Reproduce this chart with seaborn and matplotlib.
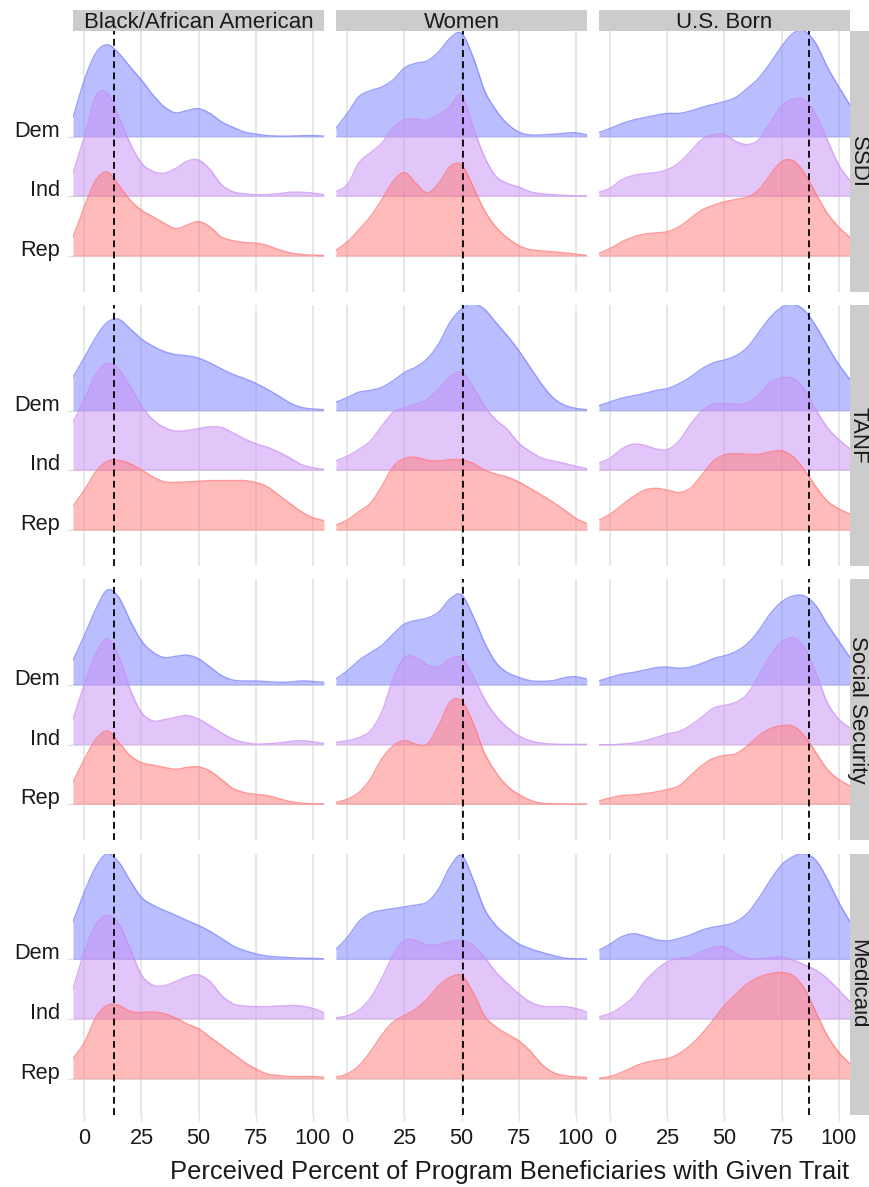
import numpy as np
import matplotlib
matplotlib.use("Agg")
import matplotlib.pyplot as plt
import seaborn as sns

# ---------------- data ----------------
programs = ["SSDI", "TANF", "Social Security", "Medicaid"]
traits = ["Black/African American", "Women", "U.S. Born"]
parties = ["Dem", "Ind", "Rep"]
x_grid = [-5, 0, 5, 10, 15, 20, 25, 30, 35, 40, 45, 50, 55, 60, 65, 70, 75, 80, 85, 90, 95, 100, 105]
x_ticks = [0, 25, 50, 75, 100]
actual_values = [12.9, 50.8, 87.0]   # dashed reference lines per trait

# ridge heights (in units of ridge spacing) at x_grid
ssdi_black_dem = [0.32,0.95,1.40,1.54,1.40,1.17,0.95,0.70,0.50,0.40,0.44,0.47,0.39,0.25,0.16,0.08,0.045,0.02,0.01,0.01,0.017,0.02,0.01]
ssdi_black_ind = [0.39,1.00,1.68,1.73,1.34,0.89,0.56,0.42,0.39,0.47,0.59,0.61,0.45,0.20,0.08,0.045,0.03,0.03,0.045,0.07,0.07,0.056,0.03]
ssdi_black_rep = [0.32,0.83,1.27,1.41,1.19,0.94,0.77,0.66,0.55,0.46,0.52,0.58,0.49,0.32,0.26,0.23,0.22,0.18,0.11,0.056,0.028,0.017,0.01]

ssdi_women_dem = [0.14,0.39,0.67,0.77,0.83,0.95,1.15,1.23,1.27,1.42,1.65,1.73,1.34,0.78,0.45,0.22,0.08,0.03,0.03,0.04,0.056,0.067,0.03]
ssdi_women_ind = [0.08,0.20,0.56,0.73,0.89,1.15,1.28,1.30,1.28,1.37,1.51,1.70,1.17,0.67,0.34,0.22,0.16,0.08,0.045,0.03,0.017,0.01,0.005]
ssdi_women_rep = [0.10,0.24,0.44,0.66,0.94,1.25,1.40,1.22,1.06,1.22,1.50,1.53,1.17,0.77,0.49,0.31,0.18,0.11,0.09,0.073,0.056,0.034,0.01]

ssdi_usborn_dem = [0.07,0.14,0.22,0.28,0.32,0.36,0.39,0.39,0.43,0.49,0.54,0.59,0.66,0.81,0.98,1.23,1.51,1.73,1.77,1.56,1.17,0.84,0.53]
ssdi_usborn_ind = [0.07,0.14,0.28,0.35,0.38,0.40,0.45,0.56,0.75,0.95,1.03,1.04,0.92,0.87,0.95,1.23,1.51,1.63,1.62,1.37,0.95,0.53,0.26]
ssdi_usborn_rep = [0.045,0.13,0.24,0.32,0.37,0.39,0.41,0.49,0.63,0.77,0.85,0.91,0.95,0.99,1.11,1.36,1.58,1.60,1.39,1.05,0.72,0.49,0.31]

tanf_black_dem = [0.56,0.89,1.23,1.48,1.53,1.37,1.20,1.08,0.99,0.94,0.92,0.88,0.80,0.70,0.61,0.54,0.46,0.36,0.25,0.13,0.056,0.028,0.017]
tanf_black_ind = [0.80,1.19,1.61,1.79,1.69,1.41,1.08,0.85,0.72,0.66,0.67,0.70,0.73,0.72,0.63,0.53,0.45,0.39,0.31,0.21,0.10,0.045,0.017]
tanf_black_rep = [0.40,0.67,0.98,1.15,1.17,1.11,1.01,0.89,0.81,0.80,0.81,0.82,0.83,0.83,0.83,0.83,0.80,0.73,0.59,0.45,0.31,0.21,0.16]

tanf_women_dem = [0.14,0.22,0.31,0.34,0.39,0.50,0.64,0.73,0.87,1.12,1.48,1.70,1.79,1.70,1.48,1.26,1.01,0.73,0.45,0.22,0.095,0.04,0.017]
tanf_women_ind = [0.16,0.24,0.35,0.49,0.74,0.97,1.05,1.11,1.19,1.36,1.57,1.64,1.41,1.08,0.85,0.69,0.46,0.32,0.21,0.16,0.12,0.07,0.03]
tanf_women_rep = [0.084,0.17,0.31,0.45,0.73,1.06,1.20,1.22,1.17,1.16,1.18,1.18,1.12,1.01,0.94,0.89,0.81,0.70,0.59,0.47,0.34,0.20,0.11]

tanf_usborn_dem = [0.084,0.15,0.21,0.25,0.29,0.34,0.37,0.45,0.56,0.70,0.80,0.85,0.92,1.06,1.31,1.56,1.73,1.78,1.68,1.42,1.09,0.78,0.52]
tanf_usborn_ind = [0.12,0.21,0.36,0.44,0.42,0.36,0.35,0.49,0.77,0.99,1.11,1.12,1.11,1.13,1.27,1.47,1.55,1.54,1.36,1.02,0.72,0.52,0.36]
tanf_usborn_rep = [0.17,0.27,0.42,0.56,0.67,0.70,0.67,0.63,0.70,0.92,1.15,1.26,1.28,1.27,1.27,1.31,1.33,1.23,1.01,0.73,0.49,0.36,0.27]

ss_black_dem = [0.41,0.83,1.27,1.59,1.47,1.08,0.74,0.55,0.46,0.48,0.50,0.44,0.30,0.16,0.084,0.067,0.067,0.056,0.045,0.05,0.067,0.06,0.045]
ss_black_ind = [0.43,1.02,1.52,1.77,1.49,0.93,0.54,0.40,0.42,0.46,0.49,0.43,0.32,0.20,0.095,0.04,0.011,0.017,0.03,0.056,0.067,0.05,0.022]
ss_black_rep = [0.37,0.76,1.09,1.23,1.04,0.82,0.70,0.66,0.62,0.59,0.62,0.63,0.56,0.42,0.27,0.20,0.17,0.15,0.10,0.05,0.022,0.011,0.011]

ss_women_dem = [0.10,0.24,0.41,0.54,0.66,0.85,1.02,1.08,1.12,1.22,1.44,1.51,1.16,0.72,0.38,0.21,0.13,0.073,0.06,0.073,0.12,0.14,0.10]
ss_women_ind = [0.04,0.067,0.12,0.23,0.54,1.10,1.46,1.46,1.34,1.30,1.44,1.46,1.16,0.77,0.49,0.29,0.15,0.067,0.028,0.011,0.006,0.006,0.006]
ss_women_rep = [0.034,0.09,0.20,0.42,0.76,0.98,1.07,1.01,1.01,1.32,1.71,1.74,1.37,0.87,0.54,0.31,0.17,0.073,0.022,0.011,0.006,0.006,0.006]

ss_usborn_dem = [0.07,0.13,0.18,0.21,0.25,0.29,0.30,0.28,0.30,0.36,0.44,0.49,0.56,0.69,0.91,1.19,1.39,1.49,1.49,1.33,1.02,0.74,0.46]
ss_usborn_ind = [0.0,0.0,0.011,0.028,0.067,0.12,0.18,0.22,0.32,0.46,0.61,0.66,0.71,0.85,1.16,1.49,1.72,1.79,1.63,1.21,0.71,0.43,0.28]
ss_usborn_rep = [0.06,0.11,0.15,0.16,0.18,0.21,0.25,0.31,0.48,0.65,0.77,0.82,0.85,0.98,1.15,1.27,1.32,1.31,1.15,0.87,0.59,0.42,0.31]

medicaid_black_dem = [0.63,1.13,1.55,1.77,1.63,1.32,1.04,0.91,0.82,0.74,0.65,0.57,0.47,0.35,0.23,0.15,0.095,0.056,0.04,0.028,0.022,0.017,0.011]
medicaid_black_ind = [0.51,1.13,1.58,1.74,1.60,1.18,0.74,0.57,0.56,0.63,0.71,0.74,0.63,0.40,0.26,0.22,0.21,0.21,0.22,0.23,0.22,0.18,0.11]
medicaid_black_rep = [0.34,0.61,1.03,1.23,1.23,1.13,1.11,1.12,1.09,1.02,0.92,0.84,0.70,0.56,0.42,0.28,0.17,0.084,0.056,0.04,0.04,0.04,0.028]

medicaid_women_dem = [0.17,0.37,0.63,0.77,0.82,0.85,0.88,0.91,0.96,1.18,1.55,1.74,1.35,0.85,0.57,0.40,0.26,0.18,0.12,0.067,0.022,0.011,0.006]
medicaid_women_ind = [0.022,0.056,0.15,0.35,0.68,1.07,1.32,1.32,1.24,1.25,1.30,1.32,1.24,1.04,0.79,0.60,0.43,0.29,0.22,0.21,0.21,0.18,0.12]
medicaid_women_rep = [0.028,0.084,0.22,0.45,0.73,0.95,1.06,1.17,1.34,1.56,1.70,1.73,1.45,1.06,0.87,0.75,0.64,0.47,0.25,0.11,0.056,0.034,0.022]

medicaid_usborn_dem = [0.15,0.26,0.38,0.43,0.39,0.33,0.31,0.35,0.41,0.49,0.54,0.57,0.63,0.77,1.02,1.32,1.58,1.72,1.77,1.66,1.35,0.96,0.63]
medicaid_usborn_ind = [0.04,0.095,0.21,0.37,0.63,0.82,0.96,1.02,1.04,1.13,1.20,1.21,1.10,1.02,1.01,1.03,1.04,0.99,0.91,0.82,0.68,0.49,0.29]
medicaid_usborn_rep = [0.011,0.04,0.11,0.20,0.27,0.31,0.34,0.42,0.56,0.75,0.98,1.23,1.42,1.59,1.70,1.76,1.78,1.73,1.51,1.12,0.73,0.45,0.25]

ridges = {
    ("SSDI", "Black/African American"): [ssdi_black_dem, ssdi_black_ind, ssdi_black_rep],
    ("SSDI", "Women"): [ssdi_women_dem, ssdi_women_ind, ssdi_women_rep],
    ("SSDI", "U.S. Born"): [ssdi_usborn_dem, ssdi_usborn_ind, ssdi_usborn_rep],
    ("TANF", "Black/African American"): [tanf_black_dem, tanf_black_ind, tanf_black_rep],
    ("TANF", "Women"): [tanf_women_dem, tanf_women_ind, tanf_women_rep],
    ("TANF", "U.S. Born"): [tanf_usborn_dem, tanf_usborn_ind, tanf_usborn_rep],
    ("Social Security", "Black/African American"): [ss_black_dem, ss_black_ind, ss_black_rep],
    ("Social Security", "Women"): [ss_women_dem, ss_women_ind, ss_women_rep],
    ("Social Security", "U.S. Born"): [ss_usborn_dem, ss_usborn_ind, ss_usborn_rep],
    ("Medicaid", "Black/African American"): [medicaid_black_dem, medicaid_black_ind, medicaid_black_rep],
    ("Medicaid", "Women"): [medicaid_women_dem, medicaid_women_ind, medicaid_women_rep],
    ("Medicaid", "U.S. Born"): [medicaid_usborn_dem, medicaid_usborn_ind, medicaid_usborn_rep],
}

party_colors = {"Dem": "#777FFF", "Ind": "#C98FF5", "Rep": "#FF7777"}
party_pos = {"Dem": 3, "Ind": 2, "Rep": 1}


def smooth_curve(xs, ys, n=12):
    """Catmull-Rom rendering of the read-off points (display only)."""
    xs = np.asarray(xs, float)
    ys = np.asarray(ys, float)
    p = np.concatenate([[2 * ys[0] - ys[1]], ys, [2 * ys[-1] - ys[-2]]])
    out_x, out_y = [], []
    for i in range(len(ys) - 1):
        t = np.linspace(0, 1, n, endpoint=False)
        p0, p1, p2, p3 = p[i], p[i + 1], p[i + 2], p[i + 3]
        yy = 0.5 * (2 * p1 + (-p0 + p2) * t + (2 * p0 - 5 * p1 + 4 * p2 - p3) * t ** 2
                    + (-p0 + 3 * p1 - 3 * p2 + p3) * t ** 3)
        out_x.append(xs[i] + (xs[i + 1] - xs[i]) * t)
        out_y.append(yy)
    out_x.append([xs[-1]])
    out_y.append([ys[-1]])
    return np.concatenate(out_x), np.clip(np.concatenate(out_y), 0, None)


# ---------------- style ----------------
sns.set_theme(style="white")
plt.rcParams["font.family"] = ["Liberation Sans", "DejaVu Sans"]
text_color = "#1a1a1a"
grid_color = "#E3E3E3"
strip_color = "#CCCCCC"
tick_fs = 15.7
strip_fs = 16
title_fs = 18.4

W, H = 870, 1187
fig = plt.figure(figsize=(W / 100, H / 100), dpi=100)

col_left = [73, 336, 599]
pw = 251
row_top = [31, 305, 579.3, 853.7]
ph = 261


def fig_rect(x, y, w, h):
    return [x / W, 1 - (y + h) / H, w / W, h / H]


for r, prog in enumerate(programs):
    for c, trait in enumerate(traits):
        ax = fig.add_axes(fig_rect(col_left[c], row_top[r], pw, ph))
        ax.set_facecolor("white")
        for sp in ax.spines.values():
            sp.set_visible(False)
        ax.set_xlim(-5, 105)
        ax.set_ylim(0.4, 4.77)
        # grid
        for xt in x_ticks:
            ax.axvline(xt, color=grid_color, lw=1.2, zorder=0)
        for yp in [1, 2, 3]:
            ax.axhline(yp, color=grid_color, lw=1.2, zorder=0)

        curves = ridges[(prog, trait)]
        for k, party in enumerate(parties):
            base = party_pos[party]
            xs, ys = smooth_curve(x_grid, curves[k])
            col = party_colors[party]
            ax.fill_between(xs, base, base + ys, color=col, alpha=0.5, lw=0, zorder=2 + k)
            sns.lineplot(x=xs, y=base + ys, ax=ax, color=col, lw=1.0, alpha=0.75,
                         estimator=None, sort=False, zorder=2 + k)

        ax.axvline(actual_values[c], color="black", lw=1.3, ls=(0, (3.8, 2.4)), zorder=10)

        ax.set_xticks(x_ticks)
        ax.set_yticks([1, 2, 3])
        ax.tick_params(axis="both", which="both", length=4.5, width=1.0, color=grid_color,
                       labelsize=tick_fs, labelcolor=text_color, pad=5, direction="out",
                       bottom=True, left=True)
        if r == len(programs) - 1:
            ax.set_xticklabels([str(v) for v in x_ticks])
        else:
            ax.set_xticklabels([])
            ax.tick_params(axis="x", length=0)
        if c == 0:
            ax.set_yticklabels(["Rep", "Ind", "Dem"])
            for lbl in ax.get_yticklabels():
                lbl.set_va("baseline")
        else:
            ax.set_yticklabels([])
            ax.tick_params(axis="y", length=0)
        ax.set_xlabel("")
        ax.set_ylabel("")
        ax.grid(False)

        # top strips
        if r == 0:
            sax = fig.add_axes(fig_rect(col_left[c], 10, pw, 21))
            sax.set_facecolor(strip_color)
            sax.set_xticks([]); sax.set_yticks([])
            for sp in sax.spines.values():
                sp.set_visible(False)
            sax.text(0.5, 0.42, trait, ha="center", va="center", fontsize=strip_fs,
                     color=text_color, transform=sax.transAxes)
        # right strips
        if c == len(traits) - 1:
            sax = fig.add_axes(fig_rect(850, row_top[r], 20, ph))
            sax.set_facecolor(strip_color)
            sax.set_xticks([]); sax.set_yticks([])
            for sp in sax.spines.values():
                sp.set_visible(False)
            sax.text(0.4, 0.5, prog, ha="center", va="center", fontsize=strip_fs,
                     rotation=-90, color=text_color, transform=sax.transAxes)

fig.text(849 / W, 1 - 1179 / H, "Perceived Percent of Program Beneficiaries with Given Trait",
         ha="right", va="baseline", fontsize=title_fs, color=text_color)

fig.savefig("out.png", dpi=100, facecolor="white")
